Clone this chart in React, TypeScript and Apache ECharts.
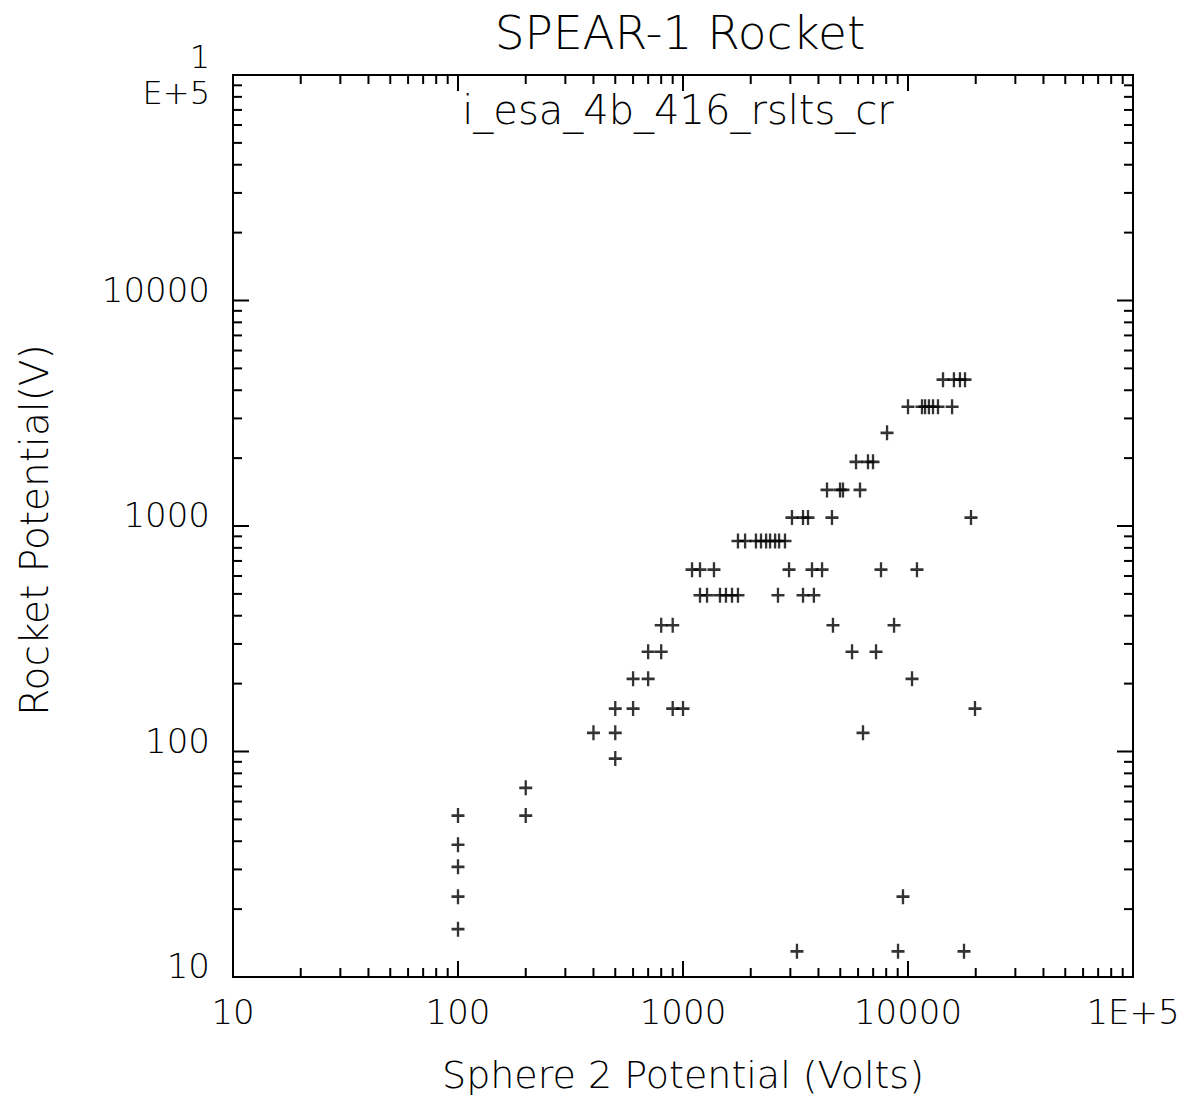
import React, { useEffect, useRef } from 'react';
import * as echarts from 'echarts';

// Sphere 2 potential (Volts) for each measurement
const sphereVolts = [
  3210, 9030, 17740,
  100,
  100, 9500,
  100,
  100,
  100, 200,
  200,
  500,
  400, 500, 6310,
  500, 600, 900, 1000, 19850,
  600, 700, 10420,
  700, 800, 5640, 7210,
  800, 900, 4640, 8670,
  1190, 1279, 1460, 1552, 1651, 1755, 2643, 3415, 3817,
  1097, 1190, 1373, 2960, 3744, 4150, 7586, 10960,
  1755, 1888, 2110, 2222, 2340, 2438, 2566, 2673, 2840,
  3050, 3415, 3594, 4593, 19050,
  4365, 4988, 5140, 6120,
  5875, 6640, 6990,
  8070,
  10000, 11540, 11910, 12390, 12920, 13590, 15700,
  14310, 16000, 17020, 17920,
];

// Rocket potential (V) for each measurement
const rocketVolts = [
  13, 13, 13,
  16.3,
  22.7, 22.7,
  30.8,
  38.6,
  52, 52,
  69,
  93,
  121, 121, 121,
  155, 155, 155, 155, 155,
  210, 210, 210,
  277, 277, 277, 277,
  363, 363, 363, 363,
  493, 493, 493, 493, 493, 493, 493, 493, 493,
  640, 640, 640, 640, 640, 640, 640, 640,
  858, 858, 858, 858, 858, 858, 858, 858, 858,
  1090, 1090, 1090, 1090, 1090,
  1445, 1445, 1445, 1445,
  1925, 1925, 1925,
  2590,
  3380, 3380, 3380, 3380, 3380, 3380, 3380,
  4456, 4456, 4456, 4456,
];

const majorTicks = [10, 100, 1000, 10000, 100000];
const minorTicks = [
  20, 30, 40, 50, 60, 70, 80, 90,
  200, 300, 400, 500, 600, 700, 800, 900,
  2000, 3000, 4000, 5000, 6000, 7000, 8000, 9000,
  20000, 30000, 40000, 50000, 60000, 70000, 80000, 90000,
];
const xTickLabels: Record<string, string> = {
  '10': '10', '100': '100', '1000': '1000', '10000': '10000', '100000': '1E+5',
};
const yTickLabels: Record<string, string> = {
  '10': '10', '100': '100', '1000': '1000', '10000': '10000', '100000': '1\nE+5',
};

const titleText = 'SPEAR-1 Rocket';
const subtitleText = 'i_esa_4b_416_rslts_cr';
const xName = 'Sphere 2 Potential (Volts)';
const yName = 'Rocket Potential(V)';

const FONT = '"DejaVu Sans", "Liberation Sans", sans-serif';

function tickSeries(values: number[], len: number, isX: boolean) {
  return {
    type: 'custom',
    coordinateSystem: 'cartesian2d',
    silent: true,
    clip: false,
    z: 5,
    data: values.map((v) => (isX ? [v, 10] : [10, v])),
    renderItem: (params: any, api: any) => {
      const cs = params.coordSys;
      const style = { stroke: '#000', lineWidth: 2 };
      if (isX) {
        const px = api.coord([api.value(0), 10])[0];
        const yb = cs.y + cs.height;
        return {
          type: 'group',
          children: [
            { type: 'line', shape: { x1: px, y1: yb, x2: px, y2: yb - len }, style },
            { type: 'line', shape: { x1: px, y1: cs.y, x2: px, y2: cs.y + len }, style },
          ],
        };
      }
      const py = api.coord([10, api.value(1)])[1];
      const xr = cs.x + cs.width;
      return {
        type: 'group',
        children: [
          { type: 'line', shape: { x1: cs.x, y1: py, x2: cs.x + len, y2: py }, style },
          { type: 'line', shape: { x1: xr, y1: py, x2: xr - len, y2: py }, style },
        ],
      };
    },
  };
}

export default function App() {
  const ref = useRef<HTMLDivElement>(null);
  useEffect(() => {
    if (!ref.current) return;
    const chart = echarts.init(ref.current, null, { renderer: 'svg' });
    const points = sphereVolts.map((x, i) => [x, rocketVolts[i]]);
    chart.setOption({
      animation: false,
      backgroundColor: '#fff',
      textStyle: { fontFamily: FONT },
      grid: {
        left: 233, right: 65, top: 75, bottom: 126,
        show: true, borderColor: '#000', borderWidth: 2,
      },
      xAxis: {
        type: 'log', logBase: 10, min: 10, max: 100000, splitNumber: 4,
        axisLine: { show: true, lineStyle: { color: '#000', width: 2 } },
        axisTick: { show: false },
        splitLine: { show: false },
        axisLabel: {
          color: '#000', fontSize: 34, fontFamily: FONT, fontWeight: 200, margin: 18,
          showMinLabel: true, showMaxLabel: true,
          formatter: (v: number) => xTickLabels[String(Math.round(v))] ?? '',
        },
      },
      yAxis: {
        type: 'log', logBase: 10, min: 10, max: 100000, splitNumber: 4,
        axisLine: { show: true, lineStyle: { color: '#000', width: 2 } },
        axisTick: { show: false },
        splitLine: { show: false },
        axisLabel: {
          color: '#000', fontSize: 32, fontFamily: FONT, fontWeight: 200, margin: 23,
          showMinLabel: true, showMaxLabel: true,
          formatter: (v: number) => {
            const key = String(Math.round(v));
            const t = yTickLabels[key] ?? '';
            if (key === '100000') return t;
            return '{s|' + t + '}';
          },
          rich: {
            s: { fontSize: 34, fontFamily: FONT, fontWeight: 200, color: '#000', padding: [0, 0, 22, 0] },
          },
          lineHeight: 36,
        },
      },
      graphic: [
        {
          type: 'text', x: 680, y: 32,
          style: { text: titleText, align: 'center', verticalAlign: 'middle', fontSize: 47, fontFamily: FONT, fontWeight: 200, fill: '#000' },
        },
        {
          type: 'text', x: 678, y: 110,
          style: { text: subtitleText, align: 'center', verticalAlign: 'middle', fontSize: 40, fontFamily: FONT, fontWeight: 200, fill: '#000' },
        },
        {
          type: 'text', x: 683, y: 1075,
          style: { text: xName, align: 'center', verticalAlign: 'middle', fontSize: 38, fontFamily: FONT, fontWeight: 200, fill: '#000' },
        },
        {
          type: 'text', x: 34, y: 530, rotation: Math.PI / 2,
          style: { text: yName, align: 'center', verticalAlign: 'middle', fontSize: 39, fontFamily: FONT, fontWeight: 200, fill: '#000' },
        },
      ],
      series: [
        tickSeries(majorTicks, 16, true),
        tickSeries(minorTicks, 9, true),
        tickSeries(majorTicks, 16, false),
        tickSeries(minorTicks, 9, false),
        {
          type: 'scatter',
          data: points,
          symbol: 'path://M6,0L6,14M0,7L12,7',
          symbolSize: [13, 15],
          itemStyle: { color: 'none', borderColor: '#000', borderWidth: 2.5 },
          z: 10,
        },
      ],
    });
    return () => chart.dispose();
  }, []);
  return <div ref={ref} style={{ position: 'absolute', left: 0, top: 0, width: 1198, height: 1103 }} />;
}
